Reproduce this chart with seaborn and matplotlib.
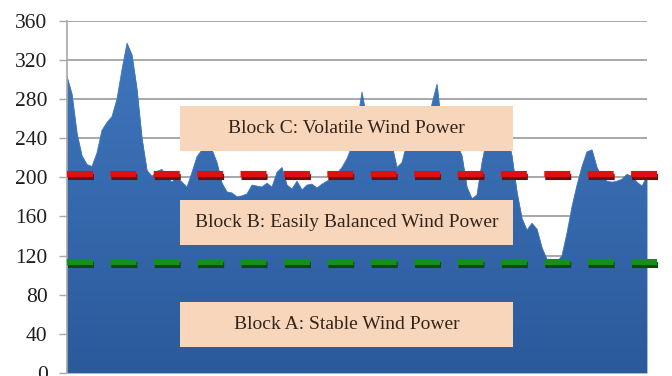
import numpy as np
import pandas as pd
import matplotlib
matplotlib.use("Agg")
import matplotlib.pyplot as plt
import matplotlib.patheffects as pe
from matplotlib.colors import LinearSegmentedColormap
from matplotlib.patches import Rectangle
import seaborn as sns

# ---------------- data ----------------
wind_power = [
    303, 285, 245, 222, 213, 211, 225, 248, 256, 262,
    280, 310, 337, 325, 290, 240, 207, 201, 206, 208,
    200, 195, 200, 195, 190, 205, 221, 228, 232, 228,
    215, 194, 185, 184, 180, 181, 183, 192, 191, 190,
    194, 190, 205, 210, 192, 188, 196, 187, 192, 193,
    189, 193, 196, 199, 204, 210, 219, 232, 255, 287,
    258, 240, 239, 242, 240, 233, 210, 215, 235, 241,
    240, 240, 246, 275, 295, 250, 241, 240, 234, 222,
    190, 178, 182, 215, 240, 246, 255, 270, 245, 222,
    185, 158, 146, 153, 147, 128, 116, 113, 113, 120,
    143, 170, 192, 211, 226, 228, 210, 200, 196, 195,
    196, 198, 203, 201, 195, 191, 201,
]
y_ticks = [0, 40, 80, 120, 160, 200, 240, 280, 320, 360]
volatile_threshold = 203
stable_threshold = 113
block_labels = ["Block C: Volatile Wind Power",
                "Block B: Easily Balanced Wind Power",
                "Block A: Stable Wind Power"]

df = pd.DataFrame({"t": np.arange(len(wind_power)), "power": wind_power})

# ---------------- style ----------------
sns.set_theme(style="white")
plt.rcParams["font.family"] = ["Liberation Serif", "DejaVu Serif"]

W, H = 672, 376
fig = plt.figure(figsize=(W / 100, H / 100), dpi=100)
ax = fig.add_axes([67 / W, 3 / H, 580 / W, (373 - 20.7) / H])

n = len(wind_power) - 1
ax.set_xlim(0, n)
ax.set_ylim(0, 360)

# gridlines
ax.set_yticks(y_ticks)
ax.yaxis.grid(True, color="#A8A8A8", linewidth=1.4, zorder=0)
ax.set_axisbelow(True)
ax.set_xticks([])

# area
top_c = "#4178C0"
bot_c = "#2B5A9B"
poly = ax.fill_between(df["t"], df["power"], 0, color=top_c, linewidth=0, zorder=2)
cmap = LinearSegmentedColormap.from_list("g", [bot_c, top_c])
grad = np.linspace(0, 1, 256).reshape(-1, 1)
im = ax.imshow(grad, extent=[0, n, 0, 360], origin="lower", aspect="auto",
               cmap=cmap, zorder=2.1)
im.set_clip_path(poly.get_paths()[0], transform=ax.transData)
sns.lineplot(data=df, x="t", y="power", ax=ax, color=top_c, linewidth=0.6, zorder=2.2)
ax.set_xlim(0, n)
ax.set_ylim(0, 360)
ax.set_xlabel("")
ax.set_ylabel("")

# spines
for s in ["top", "right", "bottom"]:
    ax.spines[s].set_visible(False)
ax.spines["left"].set_color("#A8A8A8")
ax.spines["left"].set_linewidth(1.2)

ax.tick_params(axis="y", which="both", left=True, length=6, width=1.0,
               color="#A8A8A8", pad=8, labelsize=15.5, labelcolor="#1e1e1e")

# text boxes (axes-fraction layout)
box_fc = "#F8D6BC"
boxes = [(0.195, 0.6305, 0.574, 0.128),
         (0.195, 0.3635, 0.574, 0.128),
         (0.195, 0.0735, 0.574, 0.128)]
for (bx, by, bw, bh), label in zip(boxes, block_labels):
    ax.add_patch(Rectangle((bx, by), bw, bh, transform=ax.transAxes,
                           facecolor=box_fc, edgecolor="none", zorder=4))
    ax.text(bx + bw / 2, by + bh / 2, label, transform=ax.transAxes,
            ha="center", va="center", fontsize=14, color="#33241a", zorder=5)

# threshold dashed lines with shadow
ext = (672 - 67) / 580
for yv, col, shadow in [(volatile_threshold, "#E01010", "#6a1010"),
                        (stable_threshold, "#13901A", "#0d4a10")]:
    ln = ax.axhline(yv, xmin=0, xmax=ext, color=col, linewidth=4.4,
                    clip_on=False, zorder=6)
    ln.set_dashes([4.25, 2.85])
    ln.set_dash_capstyle("butt")
    ln.set_path_effects([pe.SimpleLineShadow(offset=(0.8, -1.6),
                                             shadow_color=shadow, alpha=1.0),
                         pe.Normal()])

fig.savefig("out.png", dpi=100)
